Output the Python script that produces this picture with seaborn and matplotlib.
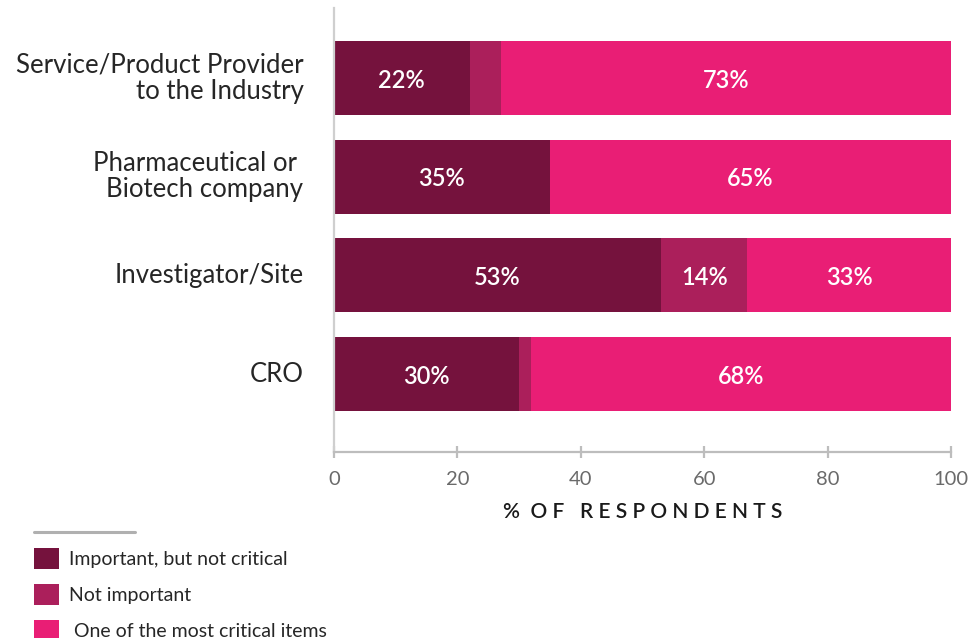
import matplotlib
matplotlib.use("Agg")
import matplotlib.pyplot as plt
from matplotlib.patches import Patch
from matplotlib.lines import Line2D
import numpy as np
import pandas as pd
import seaborn as sns

# Respondent groups and their answer shares (percent)
groups = ["Service/Product Provider\nto the Industry",
          "Pharmaceutical or \nBiotech company",
          "Investigator/Site",
          "CRO"]
important_not_critical = [22, 35, 53, 30]
not_important = [5, 0, 14, 2]
most_critical = [73, 65, 33, 68]

series_names = ["Important, but not critical", "Not important", " One of the most critical items"]
series_colors = ["#75123D", "#AB1F5B", "#E91E75"]

xticks = [0, 20, 40, 60, 80, 100]

sns.set_theme(style="white")
plt.rcParams["font.family"] = ["Lato", "DejaVu Sans"]

df = pd.DataFrame({
    "group": groups,
    "imp": important_not_critical,
    "noimp": not_important,
    "crit": most_critical,
})
df["cum1"] = df["imp"]
df["cum2"] = df["imp"] + df["noimp"]
df["cum3"] = df["cum2"] + df["crit"]

fig = plt.figure(figsize=(9.76, 6.38), dpi=100)
ax = fig.add_axes([334 / 976, 1 - 452 / 638, (951 - 334) / 976, (452 - 8) / 638])

# Stacked bars: draw cumulative totals back-to-front
for col, color in zip(["cum3", "cum2", "cum1"], series_colors[::-1]):
    sns.barplot(data=df, x=col, y="group", orient="h", color=color,
                width=0.75, saturation=1, ax=ax, linewidth=0)

ax.set_xlim(0, 100)
ax.set_ylim(3.79, -0.71)

# Value labels centred in each segment
for i in range(len(groups)):
    starts = [0, df["cum1"][i], df["cum2"][i]]
    vals = [important_not_critical[i], not_important[i], most_critical[i]]
    for s, v in zip(starts, vals):
        if v >= 10:
            ax.text(s + v / 2, i + 0.02, f"{v}%", ha="center", va="center",
                    color="white", fontsize=17, fontweight="semibold")

# Axes styling
for side in ["top", "right"]:
    ax.spines[side].set_visible(False)
ax.spines["left"].set_color("#cfcfcf")
ax.spines["left"].set_linewidth(1.6)
ax.spines["bottom"].set_color("#bdbdbd")
ax.spines["bottom"].set_linewidth(1.6)

ax.set_xticks(xticks)
ax.set_xticklabels([str(t) for t in xticks])
ax.tick_params(axis="x", bottom=True, direction="inout", length=9, width=1.6,
               color="#bdbdbd", labelsize=14.5, labelcolor="#6a6a6a", pad=9)
ax.tick_params(axis="y", left=False, length=0, labelsize=18.5, labelcolor="#262626", pad=22)
for lbl in ax.get_yticklabels():
    lbl.set_horizontalalignment("right")
    lbl.set_verticalalignment("center")
    lbl.set_linespacing(1.05)

ax.set_ylabel("")
ax.set_xlabel("%  O F   R E S P O N D E N T S", fontsize=15, color="#1a1a1a",
              fontweight="semibold", labelpad=10)

# Legend below the chart
fig.add_artist(Line2D([34 / 976, 135 / 976], [1 - 532 / 638, 1 - 532 / 638],
                      color="#b0b0b0", linewidth=2.2))
handles = [Patch(facecolor=c, edgecolor="none") for c in series_colors]
leg = fig.legend(handles, series_names, loc="upper left",
                 bbox_to_anchor=(34 / 976, 1 - 548 / 638), frameon=False,
                 fontsize=14, handlelength=1.3, handleheight=1.3,
                 handletextpad=0.5, labelspacing=0.75, borderpad=0, borderaxespad=0,
                 labelcolor="#262626")

fig.savefig("out.png", dpi=100)
